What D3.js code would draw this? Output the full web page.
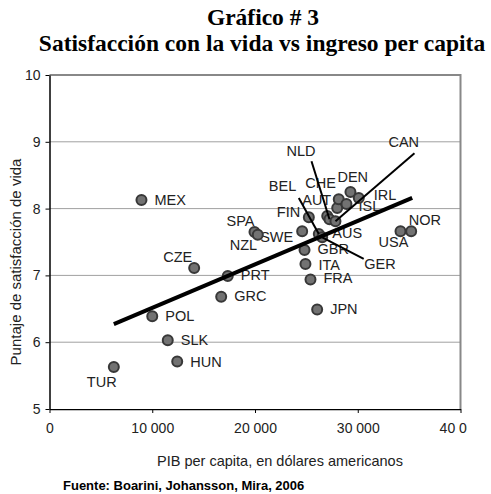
<!DOCTYPE html>
<html>
<head>
<meta charset="utf-8">
<script src="https://cdn.jsdelivr.net/npm/d3@7"></script>
<style>
    body { margin: 0; background: #fff; }
    svg { display: block; }
    .title { font-family: "Liberation Serif", "Times New Roman", serif;
        font-weight: bold; font-size: 23.5px; fill: #000; }
    .tick text, .lbl, .axis-title { font-family: "Liberation Sans", Arial,
        sans-serif; fill: #222; }
</style>
</head>
<body>
<svg width="491" height="494"></svg>
<script>
"use strict";

// OECD countries
var countries = ["MEX", "TUR", "HUN", "SLK", "POL", "CZE", "PRT", "GRC",
    "SPA", "NZL", "SWE", "FIN", "BEL", "GER", "GBR", "ITA", "FRA", "JPN",
    "AUT", "NLD", "CAN", "CHE", "AUS", "ISL", "DEN", "IRL", "USA", "NOR"];
var gdpPerCapita = [8950, 6260, 12430, 11510, 10000, 14080, 17350, 16710,
    19950, 20270, 24590, 25240, 26210, 26540, 24820, 24910, 25400, 26050,
    27030, 27250, 27830, 28000, 28150, 28900, 29290, 30100, 34160, 35200];
var satisfaction = [8.13, 5.63, 5.71, 6.03, 6.39, 7.11, 6.99, 6.68,
    7.65, 7.61, 7.66, 7.87, 7.62, 7.57, 7.38, 7.17, 6.94, 6.49,
    7.89, 7.84, 7.81, 8.01, 8.14, 8.07, 8.25, 8.16, 7.66, 7.66];

// trend line end points
var trendGdp = [6260, 35300];
var trendSat = [6.27, 8.16];

var xTicks = [0, 10000, 20000, 30000, 40000];
var yTicks = [5, 6, 7, 8, 9, 10];

// label placement (px from the dot), and leader lines
var labelPlace = {
    MEX: [13, 5], TUR: [-27, 20], HUN: [13, 5], SLK: [13, 5],
    POL: [13, 5], CZE: [-31, -6], PRT: [13, 4], GRC: [13, 4],
    SPA: [-28, -6], NZL: [-28, 15], SWE: [-42, 11], FIN: [-32, 0],
    BEL: [-50, -43], GER: [42, 32], GBR: [13, 4], ITA: [13, 6],
    FRA: [13, 4], JPN: [13, 5], AUT: [-25, -11], NLD: [-43, -63],
    CAN: [53, -74], CHE: [-32, -20], AUS: [-6.5, 39], ISL: [12, 7],
    DEN: [-13, -10], IRL: [15, 2], USA: [-22, 16], NOR: [-2.5, -6]
};
var leaders = {
    NLD: [-18, -58], CAN: [79, -68], BEL: [-20, -36], GER: [41.5, 21.5]
};

(function () {
    var svg = d3.select("svg");
    var left = 49.5, right = 460.5, plotTop = 75, bottom = 409;

    var xScale = d3.scaleLinear().domain([0, 40000]).range([left, right]);
    var yScale = d3.scaleLinear().domain([5, 10]).range([bottom, plotTop]);

    var fmt = d3.formatLocale({decimal: ",", thousands: " ", grouping: [3],
        currency: ["", ""]}).format(",");

    svg.append("text").attr("class", "title")
        .attr("x", 263).attr("y", 25).attr("text-anchor", "middle")
        .text("Gráfico # 3");
    svg.append("text").attr("class", "title")
        .attr("x", 262).attr("y", 51).attr("text-anchor", "middle")
        .text("Satisfacción con la vida vs ingreso per capita");

    // grid
    svg.append("g").selectAll("line")
        .data(yTicks.filter(function (d) { return d > 5 && d < 10; }))
        .join("line")
        .attr("x1", left).attr("x2", right)
        .attr("y1", function (d) { return yScale(d); })
        .attr("y2", function (d) { return yScale(d); })
        .attr("stroke", "#a0a0a0").attr("stroke-width", 1);

    // gray frame, top and right
    svg.append("path")
        .attr("d", "M" + left + "," + plotTop + "H" + right + "V" + bottom)
        .attr("fill", "none").attr("stroke", "#888").attr("stroke-width", 2);

    svg.append("defs").append("clipPath").attr("id", "xclip")
        .append("rect").attr("x", 0).attr("y", 0)
        .attr("width", 467).attr("height", 494);

    var xAxis = d3.axisBottom(xScale).tickValues(xTicks)
        .tickSize(4).tickSizeOuter(0).tickPadding(10).tickFormat(fmt);
    var xAxisGroup = svg.append("g")
        .attr("transform", "translate(0," + bottom + ")")
        .attr("clip-path", "url(#xclip)")
        .call(xAxis);

    var yAxis = d3.axisLeft(yScale).tickValues(yTicks)
        .tickSize(4).tickSizeOuter(0).tickPadding(5)
        .tickFormat(d3.format("d"));
    var yAxisGroup = svg.append("g")
        .attr("transform", "translate(" + left + ",0)")
        .call(yAxis);

    [xAxisGroup, yAxisGroup].forEach(function (g) {
        g.select(".domain").attr("stroke", "#000").attr("stroke-width", 1.5);
        g.selectAll(".tick line").attr("stroke", "#000");
        g.selectAll(".tick text").attr("font-size", "14px");
    });

    svg.append("text").attr("class", "axis-title")
        .attr("x", 280).attr("y", 466).attr("text-anchor", "middle")
        .attr("font-size", "14.5px")
        .text("PIB per capita, en dólares americanos");
    svg.append("text").attr("class", "axis-title")
        .attr("transform", "translate(21,262) rotate(-90)")
        .attr("text-anchor", "middle").attr("font-size", "15px")
        .text("Puntaje de satisfacción de vida");

    svg.append("text")
        .attr("x", 63).attr("y", 490)
        .attr("font-family", "'Liberation Sans', Arial, sans-serif")
        .attr("font-weight", "bold").attr("font-size", "13px")
        .text("Fuente: Boarini, Johansson, Mira, 2006");

    var points = countries.map(function (c, i) {
        return {code: c, x: xScale(gdpPerCapita[i]),
            y: yScale(satisfaction[i])};
    });

    var plot = svg.append("g");

    plot.selectAll("text.lbl").data(points).join("text")
        .attr("class", "lbl")
        .attr("font-size", "14.5px")
        .attr("x", function (d) { return d.x + labelPlace[d.code][0]; })
        .attr("y", function (d) { return d.y + labelPlace[d.code][1]; })
        .text(function (d) { return d.code; });

    plot.selectAll("circle").data(points).join("circle")
        .attr("cx", function (d) { return d.x; })
        .attr("cy", function (d) { return d.y; })
        .attr("r", 5)
        .attr("fill", "#727272")
        .attr("stroke", "#383838")
        .attr("stroke-width", 2);

    plot.selectAll("line.leader")
        .data(points.filter(function (d) { return leaders[d.code]; }))
        .join("line")
        .attr("class", "leader")
        .attr("x1", function (d) { return d.x; })
        .attr("y1", function (d) { return d.y; })
        .attr("x2", function (d) { return d.x + leaders[d.code][0]; })
        .attr("y2", function (d) { return d.y + leaders[d.code][1]; })
        .attr("stroke", "#000").attr("stroke-width", 2);

    var trendLine = d3.line()
        .x(function (d) { return xScale(d[0]); })
        .y(function (d) { return yScale(d[1]); });
    plot.append("path")
        .datum(trendGdp.map(function (g, i) { return [g, trendSat[i]]; }))
        .attr("d", trendLine)
        .attr("fill", "none").attr("stroke", "#000")
        .attr("stroke-width", 4);
}());
</script>
</body>
</html>
